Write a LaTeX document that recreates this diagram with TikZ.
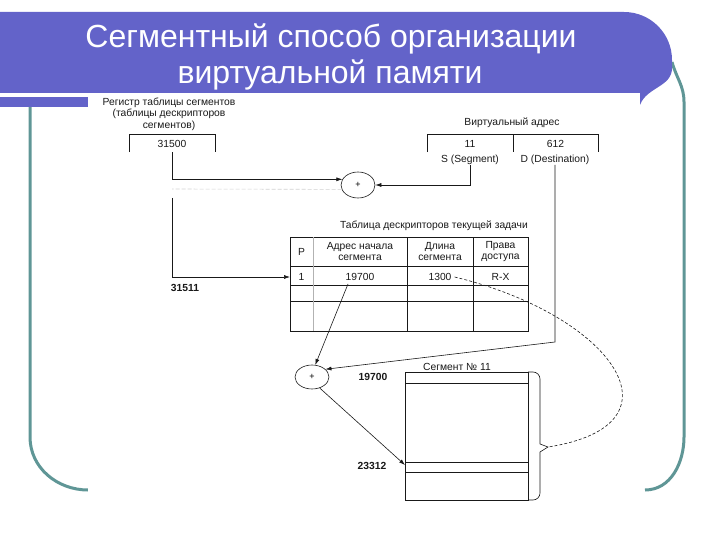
\documentclass[tikz,border=0pt]{standalone}
\usepackage{fontspec}
\setmainfont{Liberation Sans}
\usetikzlibrary{arrows.meta,shapes.geometric}
\definecolor{bannerblue}{RGB}{99,99,201}
\definecolor{frameteal}{RGB}{95,150,150}
\definecolor{ink}{RGB}{25,25,25}
\tikzset{
  lbl/.style={inner sep=0pt, text=ink, font=\fontsize{10.3}{11.5}\selectfont, align=center},
  num/.style={lbl, font=\fontsize{10.3}{11.5}\selectfont\bfseries},
  ln/.style={draw=ink, line width=0.6pt},
  arr/.style={ln, -{Latex[length=6pt,width=4pt]}},
  addcirc/.style={ellipse, draw=ink, line width=0.6pt, inner sep=0pt, font=\fontsize{9}{10}\selectfont},
  frame/.style={draw=frameteal, line width=3pt},
  titletext/.style={text=white, font=\fontsize{32}{36}\selectfont, inner sep=0pt}
}
\begin{document}
\begin{tikzpicture}[x=1pt,y=-1pt]
\useasboundingbox (0,0) rectangle (720,540);
% frame
\draw[frame] (672,62) to[out=-75,in=90] (684,102) -- (684,437) to[out=-90,in=0] (645,490);
\draw[frame] (30,107) -- (30,437) to[out=-90,in=180] (88,490);
% banner
\fill[bannerblue] (0,12) -- (624,12) to[out=0,in=90] (672,60) -- (672,68) to[out=-90,in=70] (640,105) -- (640,93) -- (0,93) -- cycle;
\fill[bannerblue] (0,97) rectangle (88,107);
\node[titletext] (t1) at (331,39) {Сегментный способ организации};
\node[titletext] (t2) at (330,75) {виртуальной памяти};
% picture area
\fill[white] (88,95) rectangle (640,505);

% register
\node[lbl] (regtitle) at (169,114) {Регистр таблицы сегментов\\(таблицы дескрипторов\\сегментов)};
\node[lbl, minimum width=86pt, minimum height=17pt] (reg) at (172,143.5) {31500};
\draw[ln] (reg.south west) -- (reg.north west) -- (reg.north east) -- (reg.south east);

% virtual address
\node[lbl] (vatitle) at (512,123) {Виртуальный адрес};
\node[lbl, minimum width=86pt, minimum height=17pt] (va1) at (470,143.5) {11};
\node[lbl, minimum width=85pt, minimum height=17pt] (va2) at (555.5,143.5) {612};
\draw[ln] (va1.south west) -- (va1.north west) -- (va2.north east) -- (va2.south east);
\draw[ln] (va1.north east) -- (va1.south east);
\node[lbl] (slab) at (470,160) {S (Segment)};
\node[lbl] (dlab) at (555,160) {D (Destination)};

% first adder
\node[addcirc, minimum width=34pt, minimum height=26pt] (c1) at (358,185) {+};
\draw[arr] (reg.south) |- (c1.160);
\draw[arr] (slab.south) |- (c1.east);
\draw[gray!35, line width=0.6pt, dash pattern=on 4pt off 2pt] (c1.195) -- (172,189);
\coordinate (sumstart) at (172,198);

% descriptor table
\node[lbl] (tabtitle) at (434,226) {Таблица дескрипторов текущей задачи};
\draw[ln] (290,237) rectangle (528,331);
\draw[ln] (290,266) -- (528,266);
\draw[ln] (290,285) -- (528,285);
\draw[ln] (290,301) -- (528,301);
\draw[draw=gray!60, line width=0.5pt] (313,237) -- (313,331);
\draw[ln] (407,237) -- (407,331);
\draw[ln] (473,237) -- (473,331);
\node[lbl] (hP) at (301.5,251.5) {P};
\node[lbl] (hA) at (360,251.5) {Адрес начала\\сегмента};
\node[lbl] (hL) at (440,251.5) {Длина\\сегмента};
\node[lbl] (hR) at (500.5,251.5) {Права\\доступа};
\node[lbl] (r1) at (301.5,277) {1};
\node[lbl] (rbase) at (360,277) {19700};
\node[lbl] (rlen) at (440,277) {1300};
\node[lbl] (rrx) at (500.5,277) {R-X};
\coordinate (rowin) at (290,277);
\draw[arr] (sumstart) |- (rowin);
\node[num] (l31511) at (185,288) {31511};

% second adder
\node[addcirc, minimum width=34pt, minimum height=24pt] (c2) at (312,377) {+};
\draw[arr] (348,284) -- (c2.75);
\coordinate (dbend) at (555,342);
\draw[arr] (dlab.south) -- (dbend) -- (c2.30);

% segment
\node[lbl] (segtitle) at (457,367) {Сегмент № 11};
\node[inner sep=0pt, minimum width=123pt, minimum height=128pt] (seg) at (466.5,436) {};
\draw[ln] (405,372) rectangle (528,500);
\draw[ln] (405,383) -- (528,383);
\draw[ln] (405,462) -- (528,462);
\draw[ln] (405,472) -- (528,472);
\draw[ln] (528,372) -- (533,372) to[out=0,in=90] (540,379) -- (540,444) -- (548,447) -- (540,452) -- (540,493) to[out=-90,in=0] (533,500) -- (528,500);
\coordinate (brtip) at (548,447);
\node[num] (l19700) at (373,377) {19700};
\node[num] (l23312) at (372,466) {23312};
\coordinate (addrin) at (405,465);
\draw[arr] (c2.-55) -- (addrin);

% dashed length check
\draw[ink, line width=0.6pt, dash pattern=on 3pt off 2pt] (rlen.east) ++(3,0) .. controls (612,315) and (690,425) .. (brtip);
\end{tikzpicture}
\end{document}
